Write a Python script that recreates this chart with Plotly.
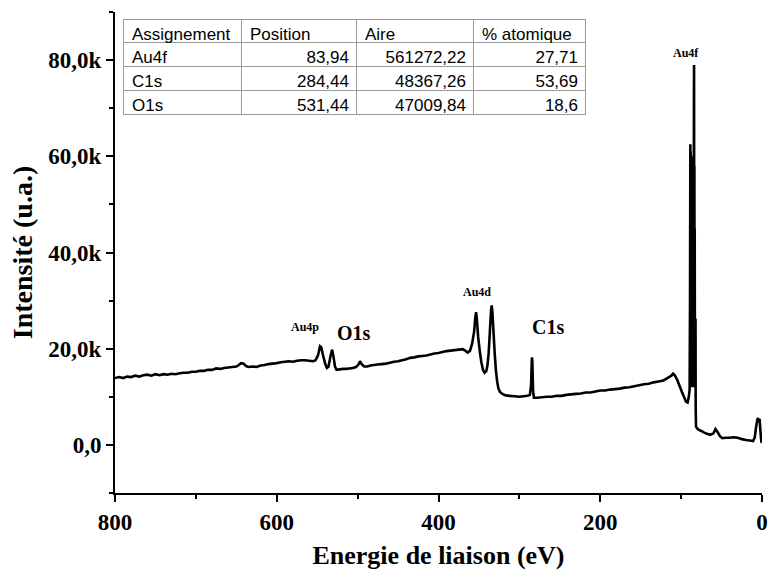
import plotly.graph_objects as go

# Binding energy (eV) and intensity (counts)
energy = [800, 795, 790, 785, 780, 775, 770, 765, 760, 755, 750, 745, 740, 735, 730, 725, 720, 715, 710, 705,
          700, 695, 690, 685, 680, 675, 670, 665, 660, 655, 650, 647, 644, 641, 638, 635, 630, 625, 620, 615,
          610, 605, 600, 595, 590, 585, 580, 575, 570, 565, 560, 555, 552, 549, 546.5, 545, 543, 540, 538, 536,
          533.5, 531.5, 530, 528, 526, 522, 518, 514, 510, 506, 502, 499, 497, 495, 492, 488, 484, 480, 475, 470,
          465, 460, 455, 450, 445, 440, 435, 430, 425, 420, 415, 410, 405, 400, 395, 390, 385, 380, 375, 370,
          367, 364, 361, 358.5, 356, 354.5, 353.5, 352.5, 351, 349, 347, 345, 343, 341, 339.5, 338, 336.5, 335,
          334.2, 333.3, 332, 330.5, 329, 327.5, 326, 324, 321, 317, 312, 306, 300, 295, 290, 287, 285.5, 284.5,
          284, 283, 282, 278, 272, 266, 260, 254, 248, 242, 236, 230, 224, 218, 212, 206, 200, 194, 188, 182,
          176, 170, 164, 158, 152, 146, 140, 134, 128, 122, 118, 115, 112, 110, 108, 105, 102, 99, 96, 94,
          92, 90.5, 89.5, 89.0, 88.6, 88.4, 88.2, 88.0, 87.8, 87.6, 87.4, 87.2, 87.0, 86.8, 86.6, 86.4, 86.2, 86.0,
          85.8, 85.6, 85.4, 85.2, 85.0, 84.8, 84.6, 84.4, 84.2, 84.0, 83.8, 83.6, 83.4, 83.2, 83.0, 82.6, 82.2, 82.0,
          81.6, 80, 78, 75, 72, 68, 64, 60, 57.5, 55, 52, 49, 45, 40, 35, 30, 25, 20, 15, 11,
          9, 7.5, 6, 5, 4, 3, 2, 1, 0.3]
intensity = [13900, 14100, 13900, 14200, 14100, 14400, 14200, 14500, 14600, 14400, 14700, 14500, 14700, 14600, 14800, 14700, 14900, 15000, 15000, 15200,
             15200, 15400, 15400, 15600, 15600, 15900, 15800, 16000, 16100, 16200, 16300, 16600, 17000, 16900, 16400, 16200, 16300, 16200, 16500, 16600,
             16800, 16900, 17000, 17200, 17300, 17400, 17300, 17500, 17600, 17600, 17500, 17400, 17600, 18600, 20500, 20300, 18800, 16800, 16000, 16300,
             18500, 19800, 18500, 16300, 15600, 15700, 15800, 15800, 15900, 16000, 16200, 16700, 17400, 16800, 16300, 16300, 16500, 16600, 16700, 16800,
             16900, 17100, 17300, 17400, 17600, 17800, 18100, 18200, 18400, 18500, 18600, 18800, 19000, 19100, 19300, 19500, 19600, 19700, 19800, 19900,
             19600, 19200, 19600, 21000, 23500, 26500, 27600, 26000, 22500, 19500, 17200, 15600, 15000, 15300, 16500, 19000, 23500, 28000,
             29000, 27500, 23500, 19000, 15500, 13200, 11800, 11000, 10600, 10300, 10200, 10100, 10000, 10100, 10200, 10400, 12500, 18200,
             17500, 11000, 9800, 9800, 9900, 10000, 10000, 10200, 10200, 10400, 10500, 10600, 10700, 10900, 10900, 11100, 11300, 11300, 11500, 11600,
             11700, 11900, 12000, 12200, 12400, 12600, 12700, 13000, 13200, 13400, 13800, 14100, 14400, 14800, 14500, 13600, 12300, 11000, 9800, 9000,
             8800, 10000, 11500, 30000, 62500, 14000, 61000, 12000, 60000, 13000, 59000, 12500, 58000, 13000, 57000, 12000, 56000, 12500,
             57000, 13000, 58000, 12000, 59000, 13000, 60000, 14000, 70000, 79000, 15000, 58000, 18000, 45000, 20000, 26000, 26000, 8000,
             3800, 3400, 3100, 2900, 2600, 2300, 2100, 2400, 3300, 2700, 1800, 1400, 1500, 1500, 1600, 1500, 1200, 1000, 900, 800,
             1500, 3500, 5000, 5600, 4800, 5400, 3000, 1000, 400]

x_tickvals = [800, 600, 400, 200, 0]
x_ticktext = ["800", "600", "400", "200", "0"]
y_tickvals = [0, 20000, 40000, 60000, 80000]
y_ticktext = ["0,0", "20,0k", "40,0k", "60,0k", "80,0k"]

peak_labels = ["Au4f", "Au4d", "Au4p", "O1s", "C1s"]
peak_x = [94, 352, 565, 504, 264.5]
peak_y = [81500, 31700, 24600, 23300, 24600]
peak_size = [12, 12, 12, 20, 20]

table_header = ["Assignement", "Position", "Aire", "%\u00a0atomique"]
table_assign = ["Au4f", "C1s", "O1s"]
table_position = ["83,94", "284,44", "531,44"]
table_area = ["561272,22", "48367,26", "47009,84"]
table_atomic = ["27,71", "53,69", "18,6"]

serif = "Liberation Serif"

fig = go.Figure()
fig.add_trace(go.Scatter(x=energy, y=intensity, mode="lines",
                         line=dict(color="black", width=2.6, simplify=False),
                         showlegend=False, hoverinfo="skip"))

fig.add_trace(go.Table(
    domain=dict(x=[0.0139, 0.728], y=[0.78, 0.985]),
    columnwidth=[118, 115, 117, 112],
    header=dict(values=table_header, align="left",
                font=dict(family="Liberation Sans", size=17, color="black"),
                fill_color="white", line=dict(color="#9a9a9a", width=1), height=23),
    cells=dict(values=[table_assign, table_position, table_area, table_atomic],
               align=["left", "right", "right", "right"],
               font=dict(family="Liberation Sans", size=17, color="black"),
               fill_color="white", line=dict(color="#9a9a9a", width=1), height=24),
))

for lab, px, py, sz in zip(peak_labels, peak_x, peak_y, peak_size):
    fig.add_annotation(x=px, y=py, text=lab, showarrow=False, xref="x", yref="y",
                       font=dict(family=serif, size=sz, color="black", weight="bold"))

fig.update_layout(
    width=769, height=574,
    margin=dict(l=115, r=7, t=12, b=81),
    paper_bgcolor="white", plot_bgcolor="white",
    xaxis=dict(range=[800, 0], tickvals=x_tickvals, ticktext=x_ticktext, automargin=False,
               showline=True, linecolor="black", linewidth=2, mirror=False,
               ticks="outside", ticklen=7, tickwidth=2, tickcolor="black",
               minor=dict(dtick=100, tick0=0, ticks="outside", ticklen=4, tickwidth=2, tickcolor="black"),
               showgrid=False, zeroline=False,
               tickfont=dict(family=serif, size=23, color="black", weight="bold"),
               title=dict(text="Energie de liaison (eV)", standoff=12,
                          font=dict(family=serif, size=26, color="black", weight="bold"))),
    yaxis=dict(range=[-10000, 90000], tickvals=y_tickvals, ticktext=y_ticktext, automargin=False,
               showline=True, linecolor="black", linewidth=2, mirror=False,
               ticks="outside", ticklen=7, tickwidth=2, tickcolor="black",
               minor=dict(dtick=10000, tick0=0, ticks="outside", ticklen=4, tickwidth=2, tickcolor="black"),
               showgrid=False, zeroline=False,
               tickfont=dict(family=serif, size=23, color="black", weight="bold"),
               title=dict(text="Intensité (u.a.)", standoff=8,
                          font=dict(family=serif, size=28, color="black", weight="bold"))),
)

fig.write_html("out.html", config={"displayModeBar": False},
               post_script="document.body.style.margin='0';")
